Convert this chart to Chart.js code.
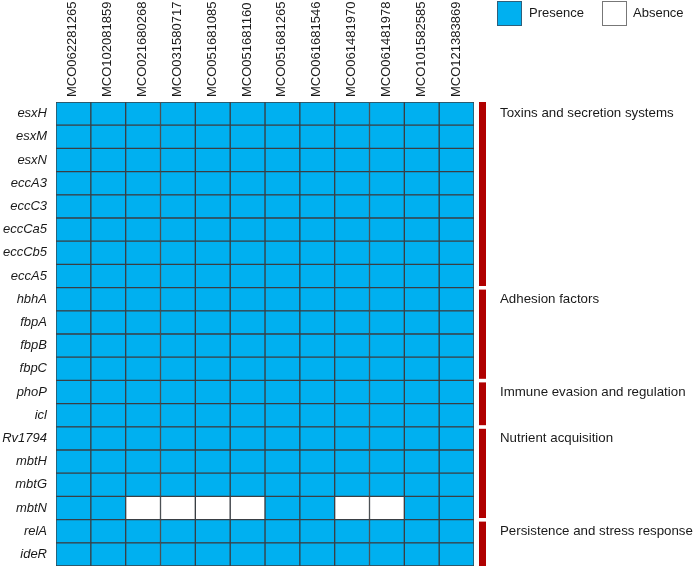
<!DOCTYPE html>
<html>
<head>
<meta charset="utf-8">
<script src="https://cdn.jsdelivr.net/npm/chart.js@4/dist/chart.umd.min.js"></script>
<style>
  html, body { margin: 0; padding: 0; background: #fff; }
  #wrap { position: relative; width: 694px; height: 569px; }
  canvas { position: absolute; left: 0; top: 0; }
  .leg { position: absolute; top: 1px; height: 25px; font: 13px "Liberation Sans", Arial, sans-serif; color: #1a1a1a; }
  .box { position: absolute; top: 0; width: 23px; height: 23px; }
  .lt { position: absolute; top: 4px; white-space: nowrap; }
</style>
</head>
<body>
<div id="wrap">
  <canvas id="c" width="694" height="569"></canvas>
  <div class="leg" style="left:497px;">
    <div class="box" style="left:0;background:#00B0F0;border:1px solid #2f5f7a;"></div>
    <div class="lt" style="left:32px;">Presence</div>
  </div>
  <div class="leg" style="left:602px;">
    <div class="box" style="left:0;background:#fff;border:1px solid #777;"></div>
    <div class="lt" style="left:31px;">Absence</div>
  </div>
</div>
<script>
const isolates = ["MCO062281265","MCO102081859","MCO021680268","MCO031580717","MCO051681085","MCO051681160","MCO051681265","MCO061681546","MCO061481970","MCO061481978","MCO101582585","MCO121383869"];
const genes = ["esxH","esxM","esxN","eccA3","eccC3","eccCa5","eccCb5","eccA5","hbhA","fbpA","fbpB","fbpC","phoP","icl","Rv1794","mbtH","mbtG","mbtN","relA","ideR"];
// 1 = presence, 0 = absence (rows = genes, columns = isolates)
const presence = [
  [1,1,1,1,1,1,1,1,1,1,1,1],
  [1,1,1,1,1,1,1,1,1,1,1,1],
  [1,1,1,1,1,1,1,1,1,1,1,1],
  [1,1,1,1,1,1,1,1,1,1,1,1],
  [1,1,1,1,1,1,1,1,1,1,1,1],
  [1,1,1,1,1,1,1,1,1,1,1,1],
  [1,1,1,1,1,1,1,1,1,1,1,1],
  [1,1,1,1,1,1,1,1,1,1,1,1],
  [1,1,1,1,1,1,1,1,1,1,1,1],
  [1,1,1,1,1,1,1,1,1,1,1,1],
  [1,1,1,1,1,1,1,1,1,1,1,1],
  [1,1,1,1,1,1,1,1,1,1,1,1],
  [1,1,1,1,1,1,1,1,1,1,1,1],
  [1,1,1,1,1,1,1,1,1,1,1,1],
  [1,1,1,1,1,1,1,1,1,1,1,1],
  [1,1,1,1,1,1,1,1,1,1,1,1],
  [1,1,1,1,1,1,1,1,1,1,1,1],
  [1,1,0,0,0,0,1,1,0,0,1,1],
  [1,1,1,1,1,1,1,1,1,1,1,1],
  [1,1,1,1,1,1,1,1,1,1,1,1]
];
const groupNames = ["Toxins and secretion systems","Adhesion factors","Immune evasion and regulation","Nutrient acquisition","Persistence and stress response"];
const groupStart = [0, 8, 12, 14, 18];
const groupSize = [8, 4, 2, 4, 2];

const PRES = "#00B0F0", ABS = "#FFFFFF", EDGE = "#3a3f44", BAR = "#B00000";
const FONT = '"Liberation Sans", Arial, sans-serif';

const datasets = isolates.map((iso, j) => ({
  label: iso,
  data: genes.map(() => 1),
  backgroundColor: genes.map((g, i) => presence[i][j] ? PRES : ABS),
  borderColor: EDGE,
  borderWidth: 1,
  borderSkipped: false,
  barPercentage: 1,
  categoryPercentage: 1,
  stack: "s"
}));

const groupPlugin = {
  id: "groups",
  afterDraw(chart) {
    const ctx = chart.ctx;
    const y = chart.scales.y;
    const step = y.getPixelForValue(1) - y.getPixelForValue(0);
    const x0 = chart.chartArea.right + 5;
    ctx.save();
    groupNames.forEach((name, k) => {
      const top = y.getPixelForValue(groupStart[k]) - step / 2;
      const bot = y.getPixelForValue(groupStart[k] + groupSize[k] - 1) + step / 2;
      const t = k === 0 ? top : top + 2;
      const b = k === groupNames.length - 1 ? bot : bot - 1.6;
      ctx.fillStyle = BAR;
      ctx.fillRect(x0, t, 7, b - t);
      ctx.fillStyle = "#1a1a1a";
      ctx.font = "13.3px " + FONT;
      ctx.textBaseline = "middle";
      ctx.textAlign = "left";
      ctx.fillText(name, x0 + 21, y.getPixelForValue(groupStart[k]));
    });
    ctx.restore();
  }
};

new Chart(document.getElementById("c"), {
  type: "bar",
  data: { labels: genes, datasets },
  options: {
    indexAxis: "y",
    responsive: false,
    animation: false,
    events: [],
    devicePixelRatio: 1,
    layout: { padding: { left: 0, right: 220, top: 0, bottom: 3 } },
    plugins: { legend: { display: false }, tooltip: { enabled: false } },
    scales: {
      x: {
        type: "linear",
        position: "top",
        stacked: true,
        min: 0,
        max: isolates.length,
        grid: { display: false, drawTicks: false },
        border: { display: false },
        afterBuildTicks(scale) { scale.ticks = isolates.map((_, i) => ({ value: i + 0.5 })); },
        afterFit(scale) { scale.height = 102; scale.paddingLeft = 0; scale.paddingRight = 0; },
        ticks: {
          autoSkip: false,
          minRotation: 90,
          maxRotation: 90,
          padding: 5,
          labelOffset: 15,
          color: "#1a1a1a",
          font: { family: FONT, size: 13 },
          callback: (v, i) => isolates[i]
        }
      },
      y: {
        type: "category",
        stacked: true,
        grid: { display: false, drawTicks: false },
        border: { display: false },
        afterFit(scale) { scale.width = 56; scale.paddingTop = 0; scale.paddingBottom = 0; },
        ticks: {
          autoSkip: false,
          padding: 9,
          color: "#1a1a1a",
          font: { family: FONT, size: 13, style: "italic" }
        }
      }
    }
  },
  plugins: [groupPlugin]
});
</script>
</body>
</html>
